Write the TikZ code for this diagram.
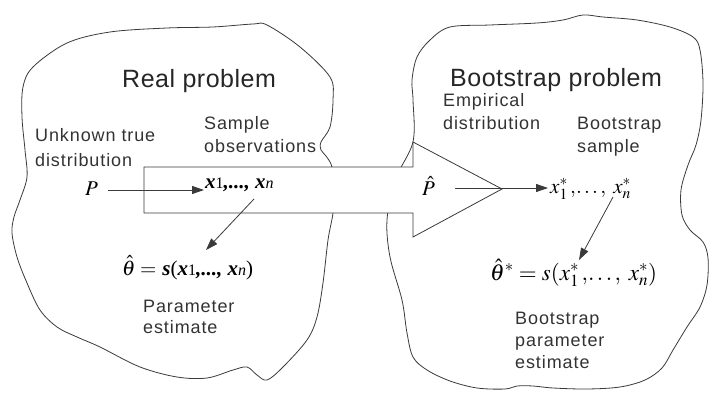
\documentclass[tikz,border=0pt]{standalone}
\usepackage{mathptmx}
\usepackage{fontspec}
\setmainfont{Liberation Sans}
\newfontfamily\lab{Liberation Sans}[LetterSpace=5]
\newfontfamily\ttlfont{Liberation Sans}[LetterSpace=2]
\newfontfamily\tms{Liberation Serif}
\usetikzlibrary{arrows.meta}
\definecolor{ink}{HTML}{3A3A3A}
\definecolor{txt}{HTML}{333333}
\newcommand{\sub}[1]{{\mdseries\fontsize{16}{16}\selectfont #1}}
\begin{document}
\begin{tikzpicture}[x=1pt,y=-1pt,
  lbl/.style={anchor=base west, inner sep=0pt, text=txt, font=\lab\fontsize{18}{22}\selectfont},
  ttl/.style={anchor=base west, inner sep=0pt, text=black!85, font=\ttlfont\fontsize{25}{30}\selectfont},
  mth/.style={anchor=base west, inner sep=0pt, text=black, font=\fontsize{21}{25}\selectfont},
  blob/.style={draw=ink, line width=0.8pt, fill=white},
  con/.style={draw=ink, line width=0.8pt, -{Triangle[length=12pt,width=8pt]}},
]
\useasboundingbox (0,0) rectangle (709,393);
\fill[white] (0,0) rectangle (709,393);
% left blob
\draw[blob] plot[smooth cycle, tension=0.55] coordinates {
 (23,87) (33,67) (67,43) (110,32) (167,28) (213,27) (253,24) (267,25)
 (300,47) (330,77) (333,100) (330,127) (321,142) (321,150) (326,156) (332,167)
 (334,190) (333,213) (328,240) (323,283) (317,317) (307,340) (283,367)
 (267,380) (257,375) (247,367) (233,370) (207,378) (177,377) (140,367)
 (100,347) (77,337) (57,327) (40,310) (27,283) (17,257) (12,233) (14,217)
 (20,200) (27,177) (25,150) (22,117)};
% right blob
\draw[blob] plot[smooth cycle, tension=0.55] coordinates {
 (413,142) (413,100) (412,80) (417,57) (430,40) (450,27) (490,25) (537,23)
 (563,20) (583,15) (603,17) (637,20) (670,27) (693,37) (700,50) (703,83)
 (701,120) (696,145) (688,165) (681,190) (682,215) (690,230) (703,242)
 (708,258) (707,285) (700,307) (687,327) (673,350) (662,368) (645,380)
 (620,387) (587,389) (553,388) (533,386) (517,386) (505,389) (477,388)
 (450,381) (427,370) (413,357) (407,333) (402,300) (390,257) (387,220)
 (395,180)};
% big arrow
\draw[blob, line join=miter] (144,167) -- (413,167) -- (413,142) -- (502,189)
  -- (413,237) -- (413,213) -- (144,213) -- cycle;
% titles
\node[ttl] (t1) at (122,88) {Real problem};
\node[ttl] (t2) at (450,87) {Bootstrap problem};
% labels
\node[lbl] (u1) at (35,142) {Unknown true};
\node[lbl] (u2) at (35,166) {distribution};
\node[lbl] (s1) at (204,130) {Sample};
\node[lbl] (s2) at (204,153) {observations};
\node[lbl] (e1) at (443,107) {Empirical};
\node[lbl] (e2) at (443,129) {distribution};
\node[lbl] (b1) at (577,130) {Bootstrap};
\node[lbl] (b2) at (577,152) {sample};
\node[lbl] (p1) at (143,312) {Parameter};
\node[lbl] (p2) at (143,333) {estimate};
\node[lbl] (q1) at (515,324) {Bootstrap};
\node[lbl] (q2) at (515,346) {parameter};
\node[lbl] (q3) at (515,368) {estimate};
% math
\node[mth] (P) at (85,195) {$P$};
\node[mth] (xs) at (205,188) {\tms\bfseries\itshape x\sub{\upshape 1},..., x\sub{n}};
\node[mth] (th) at (122,275) {$\hat{\theta} = $ {\tms\itshape\bfseries s}{\tms(}{\tms\bfseries\itshape x\sub{\upshape 1},..., x\sub{n}}{\tms)}};
\node[mth] (Ph) at (422,195) {$\hat{P}$};
\node[mth] (xb) at (550,193) {$x^{*}_{1}\,,\!\ldots,\; x^{*}_{n}$};
\node[mth, font=\fontsize{23}{27}\selectfont] (tb) at (490,280) {$\hat{\theta}^{*} = s(x^{*}_{1}\,,\!\ldots,\; x^{*}_{n})$};
% connectors
\coordinate (a1s) at (108,190); \coordinate (a1e) at (204,190);
\coordinate (a2s) at (254,199); \coordinate (a2e) at (206,250);
\coordinate (a3s) at (455,188); \coordinate (a3e) at (548,188);
\coordinate (a4s) at (613,197); \coordinate (a4e) at (579,260);
\draw[con] (a1s) -- (a1e);
\draw[con] (a2s) -- (a2e);
\draw[con] (a3s) -- (a3e);
\draw[con] (a4s) -- (a4e);
\end{tikzpicture}
\end{document}
